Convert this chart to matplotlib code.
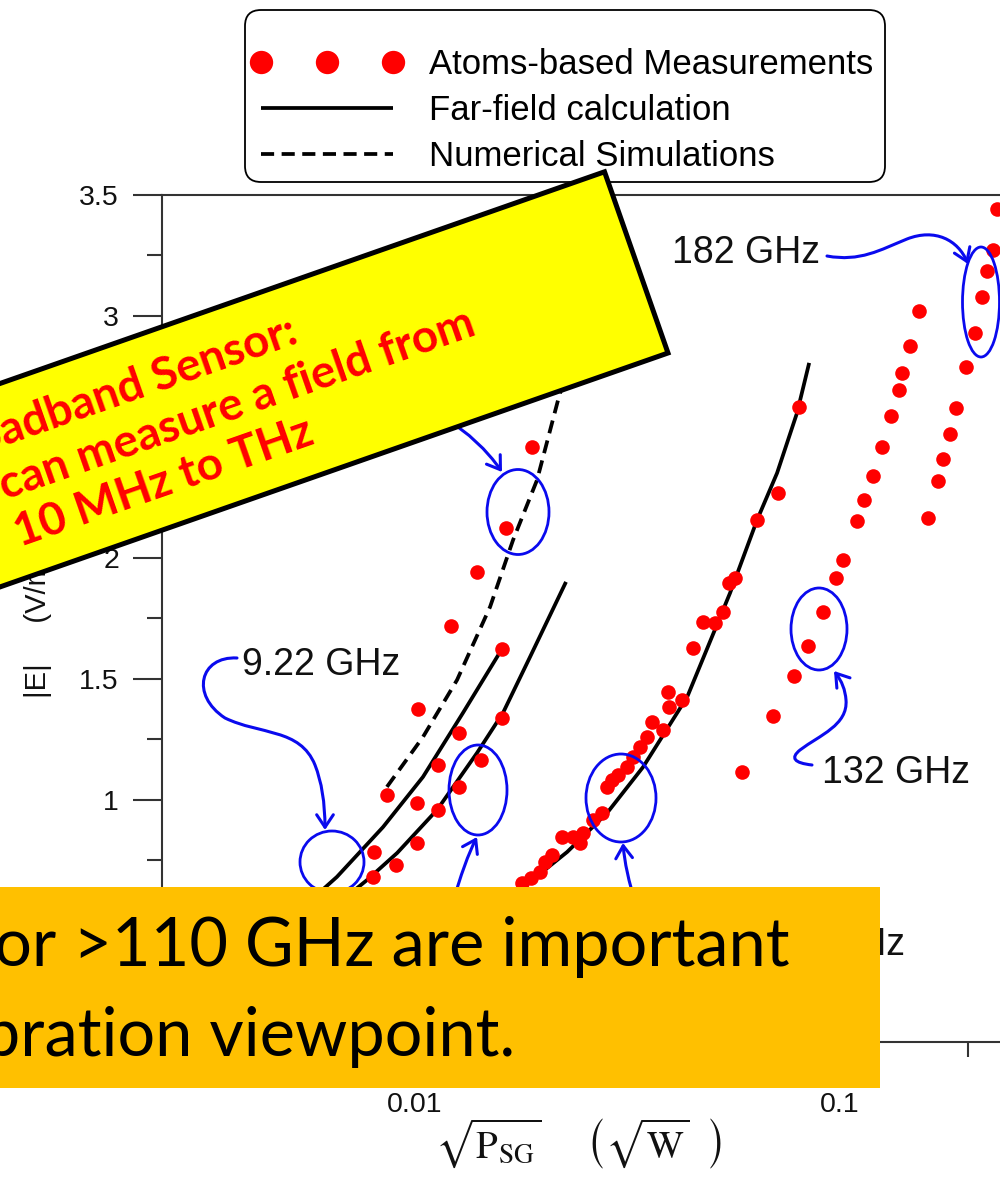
import matplotlib
matplotlib.use("Agg")
import numpy as np
import matplotlib.pyplot as plt
import matplotlib.ticker as mticker
from matplotlib.patches import Ellipse, Rectangle, FancyArrowPatch, FancyBboxPatch
from matplotlib.path import Path

# sqrt(P_SG) in sqrt(W)  vs  |E| in V/m
sim_pts_x = [0.00859, 0.01016, 0.01215, 0.01399, 0.01637, 0.01885]
sim_pts_y = [1.021, 1.376, 1.719, 1.942, 2.124, 2.459]

low_a_x = [0.00801, 0.01011, 0.01133, 0.01269, 0.01602]
low_a_y = [0.785, 0.988, 1.145, 1.277, 1.624]

low_b_x = [0.00796, 0.00902, 0.01011, 0.01133, 0.01269, 0.01430, 0.01602]
low_b_y = [0.682, 0.731, 0.822, 0.959, 1.054, 1.165, 1.339]

mid_x = [0.0179, 0.0187, 0.0197, 0.0202, 0.0210, 0.0222, 0.0235, 0.0244,
         0.0249, 0.0262, 0.0275, 0.0283, 0.0291, 0.0300, 0.0315, 0.0326,
         0.0338, 0.0352, 0.0361, 0.0383, 0.0394, 0.0396, 0.0425, 0.0451,
         0.0476, 0.0508, 0.0531, 0.0548, 0.0566, 0.0638, 0.0715, 0.0801]
mid_y = [0.657, 0.678, 0.702, 0.744, 0.773, 0.847, 0.847, 0.822,
         0.864, 0.917, 0.946, 1.054, 1.083, 1.103, 1.136, 1.178,
         1.219, 1.260, 1.322, 1.289, 1.446, 1.384, 1.413, 1.628,
         1.736, 1.731, 1.777, 1.897, 1.917, 2.157, 2.269, 2.624]

f132_x = [0.0588, 0.0696, 0.0780, 0.0841, 0.0912, 0.0979, 0.1016, 0.1096,
          0.1139, 0.1196, 0.1256, 0.1318, 0.1376, 0.1399, 0.1461, 0.1534]
f132_y = [1.116, 1.347, 1.512, 1.636, 1.777, 1.917, 1.992, 2.153,
          2.240, 2.339, 2.459, 2.587, 2.694, 2.764, 2.876, 3.021]

f182_x = [0.1611, 0.1701, 0.1748, 0.1815, 0.1875, 0.1979, 0.2078, 0.2159,
          0.2218, 0.2291, 0.2341]
f182_y = [2.165, 2.318, 2.409, 2.512, 2.620, 2.789, 2.930, 3.079,
          3.186, 3.273, 3.442]

# curves
sim_x = [0.00859, 0.01044, 0.01256, 0.01502, 0.01701, 0.01937, 0.02171, 0.02316]
sim_y = [1.054, 1.260, 1.496, 1.798, 2.074, 2.322, 2.653, 2.818]

far1_x = [0.00536, 0.00655, 0.00841, 0.01044, 0.01297, 0.01602]
far1_y = [0.545, 0.682, 0.888, 1.095, 1.360, 1.624]

far2_x = [0.00631, 0.00771, 0.00908, 0.01127, 0.01399, 0.01611, 0.01865, 0.02266]
far2_y = [0.545, 0.669, 0.781, 0.959, 1.194, 1.360, 1.591, 1.901]

far3_x = [0.0142, 0.0180, 0.0228, 0.0283, 0.0344, 0.0437, 0.0551, 0.0638,
          0.0711, 0.0792, 0.0846]
far3_y = [0.525, 0.640, 0.785, 0.946, 1.136, 1.426, 1.855, 2.157,
          2.351, 2.599, 2.806]

plt.rcParams['font.family'] = ['Liberation Sans', 'DejaVu Sans']
plt.rcParams['mathtext.fontset'] = 'stix'

H_PX = 1185
BLUE = '#0a0aee'
SLIDE_FONT = ['Lato', 'DejaVu Sans']

fig = plt.figure(figsize=(10, 11.85), dpi=100)
fig.patch.set_facecolor('white')
ax = fig.add_axes([0.162, 0.1207, 0.988, 0.7148])


def px(x, y):
    # slide pixel (top-left origin) -> inches from bottom-left
    return (x / 100.0, (H_PX - y) / 100.0)


# far-field and simulation curves
far_kw = dict(color='black', lw=2.7, solid_capstyle='butt', zorder=3)
l_far, = ax.plot(far1_x, far1_y, **far_kw)
ax.plot(far2_x, far2_y, **far_kw)
ax.plot(far3_x, far3_y, **far_kw)
l_sim, = ax.plot(sim_x, sim_y, color='black', lw=2.7, ls=(0, (3.5, 2.0)), zorder=3)

dot_kw = dict(ls='none', marker='o', ms=10.5, color='#ff0000', mec='none', zorder=4)
l_meas, = ax.plot(sim_pts_x, sim_pts_y, **dot_kw)
for xs, ys in [(low_a_x, low_a_y), (low_b_x, low_b_y), (mid_x, mid_y),
               (f132_x, f132_y), (f182_x, f182_y)]:
    ax.plot(xs, ys, **dot_kw)

ax.set_xscale('log')
ax.set_xlim(0.00254, 0.536)
ax.set_ylim(0, 3.5)

ax.xaxis.set_major_locator(mticker.LogLocator(base=10))
ax.xaxis.set_minor_locator(mticker.LogLocator(base=10, subs=np.arange(2, 10)))
ax.xaxis.set_major_formatter(mticker.FuncFormatter(lambda v, _: f'{v:g}'))
ax.xaxis.set_minor_formatter(mticker.NullFormatter())
ax.yaxis.set_major_locator(mticker.MultipleLocator(0.5))
ax.yaxis.set_minor_locator(mticker.MultipleLocator(0.25))
ax.yaxis.set_major_formatter(mticker.FuncFormatter(lambda v, _: f'{v:g}'))

ax.tick_params(which='both', direction='out', width=1.5, color='#333333',
               labelcolor='#111111', labelsize=20.5)
ax.tick_params(which='major', length=21)
ax.tick_params(which='minor', length=11)
ax.tick_params(axis='y', pad=10)
ax.tick_params(axis='x', pad=15)
for sp in ax.spines.values():
    sp.set_linewidth(1.5)
    sp.set_color('#333333')

ax.set_ylabel('|E|     (V/m)', fontsize=21, color='#111111')
ax.yaxis.set_label_coords(-0.1113, 0.492)
ax.set_xlabel(r'$\sqrt{\mathrm{P}_{\mathrm{SG}}}\quad\ \ \left(\sqrt{\mathrm{W}}\ \ \right)$',
              fontsize=28, color='#111111')
ax.xaxis.set_label_coords(0.422, -0.088)

leg = ax.legend([l_meas, l_far, l_sim],
                ['Atoms-based Measurements', 'Far-field calculation', 'Numerical Simulations'],
                loc='upper left', bbox_to_anchor=(0.238, 1 - 36 / H_PX),
                bbox_transform=fig.transFigure, borderaxespad=0,
                fontsize=25, numpoints=3, markerscale=1.6, handlelength=4.4,
                handletextpad=0.75, labelspacing=0.37, borderpad=0.35,
                frameon=False)
leg.set_zorder(6)
# legend frame, rounded
x0, y0 = px(245, 182)
ax.add_artist(FancyBboxPatch((x0, y0), 6.40, 1.72,
                             boxstyle='round,pad=0,rounding_size=0.16',
                             fc='white', ec='black', lw=1.3, clip_on=False,
                             transform=fig.dpi_scale_trans, zorder=5))

# blue hand-drawn highlights
circles = [(518, 512, 62, 85), (332, 862, 64, 62), (478, 790, 58, 90),
           (621, 798, 70, 88), (819, 629, 56, 82), (981, 302, 37, 110)]
for cx, cy, w, h in circles:
    fig.add_artist(Ellipse(px(cx, cy), w / 100, h / 100, fill=False, ec=BLUE,
                           lw=2.0, transform=fig.dpi_scale_trans, zorder=5))

M, C3, C4 = Path.MOVETO, Path.CURVE3, Path.CURVE4
arrows = [
    ([(827, 256), (860, 262), (880, 250), (907, 239), (935, 228), (958, 240), (968, 264)],
     [M, C4, C4, C4, C4, C4, C4]),
    ([(812, 765), (785, 762), (800, 750), (820, 735), (848, 725), (846, 700), (845, 685), (834, 671)],
     [M, C3, C3, C4, C4, C4, C3, C3]),
    ([(237, 658), (200, 656), (190, 695), (225, 718), (260, 735), (300, 728), (315, 765), (325, 790), (325, 830)],
     [M, C4, C4, C4, C4, C4, C4, C3, C3]),
    ([(445, 418), (480, 440), (502, 472)], [M, C3, C3]),
    ([(452, 905), (465, 860), (477, 837)], [M, C3, C3]),
    ([(636, 905), (625, 870), (623, 843)], [M, C3, C3]),
]
for verts, codes in arrows:
    path = Path([px(*v) for v in verts], codes)
    fig.add_artist(FancyArrowPatch(path=path, arrowstyle='->,head_length=0.45,head_width=0.3',
                                   mutation_scale=20, lw=2.2, color=BLUE,
                                   transform=fig.dpi_scale_trans, zorder=5))

lab_kw = dict(transform=fig.dpi_scale_trans, fontsize=27, color='#111111',
              va='baseline', zorder=5)
fig.text(*px(672, 263), '182 GHz', ha='left', **lab_kw)
fig.text(*px(242, 675), '9.22 GHz', ha='left', **lab_kw)
fig.text(*px(822, 783), '132 GHz', ha='left', **lab_kw)
fig.text(*px(905, 955), 'GHz', ha='right', **lab_kw)

# yellow callout
theta = 19.3
t = np.radians(theta)
box_w, box_h = 9.0, 1.92
br = np.array(px(668, 353))
bl = br - box_w * np.array([np.cos(t), np.sin(t)])
fig.add_artist(Rectangle(bl, box_w, box_h, angle=theta, fc='#ffff00', ec='black',
                         lw=3.6, transform=fig.dpi_scale_trans, zorder=6))
ykw = dict(transform=fig.dpi_scale_trans, rotation=theta, rotation_mode='anchor',
           va='baseline', color='#ff0000', fontsize=33, fontweight='bold',
           family=SLIDE_FONT, zorder=7)
fig.text(*px(300, 343), 'Broadband Sensor:', ha='right', **ykw)
fig.text(*px(5, 500), 'can measure a field from', ha='left', **ykw)
fig.text(*px(20, 547), '10 MHz to THz', ha='left', **ykw)

# orange banner
fig.add_artist(Rectangle(px(0, 1088), 8.8, 2.01, fc='#ffc000', ec='none',
                         transform=fig.dpi_scale_trans, zorder=6))
okw = dict(transform=fig.dpi_scale_trans, ha='right', va='baseline', color='black',
           fontsize=48, family=SLIDE_FONT, zorder=7)
fig.text(*px(789, 966), 'Measurements for >110 GHz are important', **okw)
fig.text(*px(515, 1056), 'from a calibration viewpoint.', **okw)

fig.savefig('out.png', dpi=100, facecolor='white')
